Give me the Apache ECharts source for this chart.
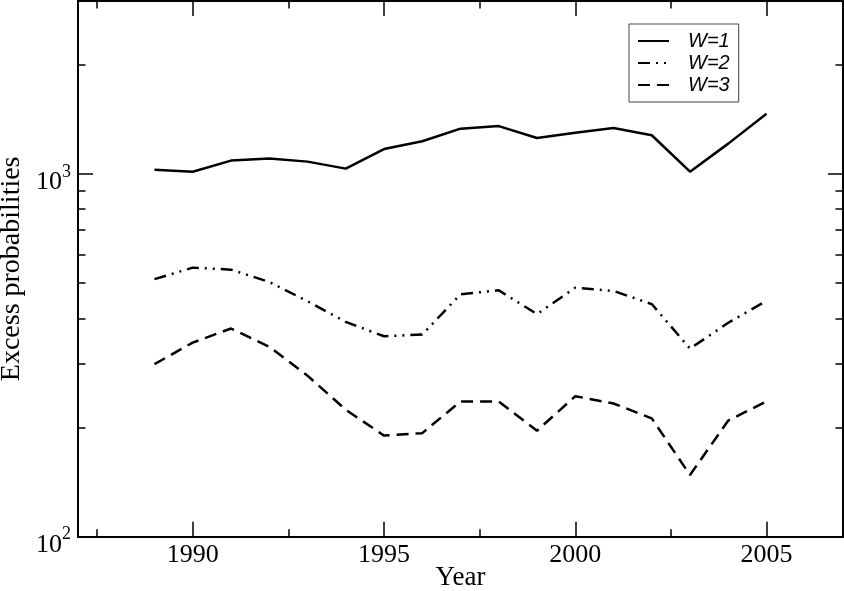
<!DOCTYPE html>
<html><head><meta charset="utf-8">
<script src="https://cdn.jsdelivr.net/npm/echarts@6/dist/echarts.min.js"></script>
<style>html,body{margin:0;padding:0;background:#fff}#chart{width:844px;height:591px}</style>
</head><body><div id="chart"></div>
<script>
// ---- data ----
const years = [1989,1990,1991,1992,1993,1994,1995,1996,1997,1998,1999,2000,2001,2002,2003,2004,2005];
const w1 = [1028,1015,1089,1103,1082,1035,1172,1231,1334,1356,1257,1300,1339,1279,1015,1213,1467];
const w2 = [513,552,545,504,446,391,357,361,466,478,411,486,476,438,330,389,447];
const w3 = [299,343,375,334,278,224,190,193,236,236,196,244,233,212,148,209,236];
const seriesNames = ['W=1','W=2','W=3'];
const xMajorTicks = [1990,1995,2000,2005];
const xMinorTicks = [1987.5,1992.5,1997.5,2002.5];
const yMinorTicks = [200,300,400,500,600,700,800,900,2000,3000];
const xTitle = 'Year';
const yTitle = 'Excess probabilities';

const SERIF = 'Liberation Serif';
const chart = echarts.init(document.getElementById('chart'));
const pairs = arr => years.map((y,i)=>[y,arr[i]]);
const dashes = ['solid',[12,6,2,6,2,6],[12,7]];

function xAx(pos, ticks, len, main){
  return {
    type:'value', position:pos, min:1987, max:2007,
    axisLine:{show:main, onZero:false, lineStyle:{color:'#000',width:2}},
    axisTick:{show:true, inside:true, length:len, customValues:ticks, lineStyle:{color:'#000',width:1.5}},
    axisLabel:{show:main && pos==='bottom', customValues:xMajorTicks, color:'#000', fontFamily:SERIF, fontSize:26, margin:5,
      formatter: v => String(Math.round(v))},
    splitLine:{show:false},
    name: (main && pos==='bottom') ? xTitle : '',
    nameLocation:'middle', nameGap:28, nameMoveOverlap:false,
    nameTextStyle:{color:'#000', fontFamily:SERIF, fontSize:27}
  };
}
function yAx(pos, ticks, len, main){
  const o = {
    type:'log', logBase:10, position:pos, min:100, max:3000,
    axisLine:{show:main, onZero:false, lineStyle:{color:'#000',width:2}},
    axisTick:{show:true, inside:true, length:len, lineStyle:{color:'#000',width:1.5}},
    axisLabel:{show:main && pos==='left', color:'#000', fontFamily:SERIF, fontSize:26, margin:7,
      padding:[10,0,0,0],
      formatter: v => Math.abs(v-100)<1 ? '{b|10}{s|2}' : (Math.abs(v-1000)<1 ? '{b|10}{s|3}' : ''),
      rich:{
        b:{fontFamily:SERIF, fontSize:26, lineHeight:32, verticalAlign:'bottom', color:'#000'},
        s:{fontFamily:SERIF, fontSize:18, lineHeight:18, verticalAlign:'top', color:'#000'}
      }},
    splitLine:{show:false},
    name: (main && pos==='left') ? yTitle : '',
    nameLocation:'middle', nameGap:52, nameMoveOverlap:false,
    nameTextStyle:{color:'#000', fontFamily:SERIF, fontSize:28}
  };
  if (ticks) o.axisTick.customValues = ticks;
  return o;
}

chart.setOption({
  animation:false,
  backgroundColor:'#fff',
  grid:{left:78, right:1, top:1, bottom:54.3, containLabel:false, outerBoundsMode:'none'},
  xAxis:[
    xAx('bottom', xMajorTicks, 15, true),
    xAx('bottom', xMinorTicks, 7.5, false),
    xAx('top', xMajorTicks, 15, true),
    xAx('top', xMinorTicks, 7.5, false)
  ],
  yAxis:[
    yAx('left', null, 15, true),
    yAx('left', yMinorTicks, 7.5, false),
    yAx('right', null, 15, true),
    yAx('right', yMinorTicks, 7.5, false)
  ],
  legend:{
    data:seriesNames, orient:'vertical', left:629, top:24,
    padding:[7,9,7,8], itemWidth:31, itemHeight:20, itemGap:2,
    borderColor:'#444', borderWidth:1, backgroundColor:'#fff',
    itemStyle:{opacity:0},
    textStyle:{fontFamily:'Liberation Sans', fontStyle:'italic', fontSize:20, color:'#000', padding:[0,0,0,14]},
    selectedMode:false
  },
  series:[w1,w2,w3].map((arr,i)=>({
    name:seriesNames[i], type:'line', xAxisIndex:0, yAxisIndex:0,
    data:pairs(arr), symbol:'none', silent:true,
    lineStyle:{color:'#000', width:2.5, type:dashes[i], cap:'butt'},
    itemStyle:{color:'#000'},
    emphasis:{disabled:true}
  }))
});
</script></body></html>
